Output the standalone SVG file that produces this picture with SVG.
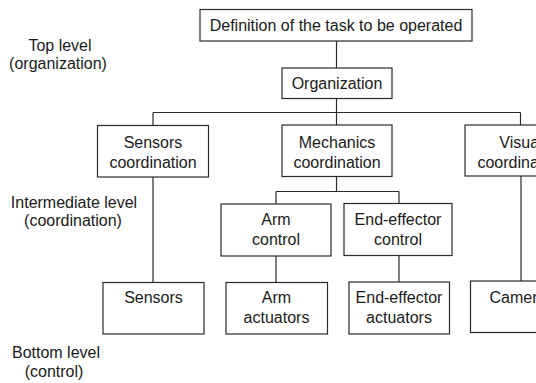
<svg xmlns="http://www.w3.org/2000/svg" width="536" height="383" viewBox="0 0 536 383">
<style>
.box{fill:#fff;stroke:#2a2a2a;stroke-width:1.2}
.ln{fill:none;stroke:#2a2a2a;stroke-width:1.2}
text{font-family:"Liberation Sans",Arial,sans-serif;font-size:16px;fill:#1a1a1a;text-anchor:middle}
</style>
<rect width="536" height="383" fill="#fff"/>
<g id="connectors">
<path class="ln" d="M336.5 41V68M336.5 98.5V125M153 112.5H520.5M153 112.5V125.5M520.5 112.5V125M153 177V282.5M336.5 176.5V191.5M276 191.5H399M276 191.5V204M399 191.5V203.5M276 256V282.5M399 255.5V282M521 176V281"/>
</g>
<g id="labels">
<text x="60" y="50.5">Top level</text>
<text x="58" y="68.5">(organization)</text>
<text x="74" y="208">Intermediate level</text>
<text x="73" y="226">(coordination)</text>
<text x="56" y="358">Bottom level</text>
<text x="54" y="377">(control)</text>
</g>
<g id="task"><rect class="box" x="200" y="9.5" width="272" height="31.5"/><text x="336" y="31">Definition of the task to be operated</text></g>
<g id="organization"><rect class="box" x="282" y="68" width="110" height="30.5"/><text x="337" y="89">Organization</text></g>
<g id="sensors-coordination"><rect class="box" x="97.5" y="125.5" width="111" height="51.5"/><text x="153" y="148">Sensors</text><text x="153" y="168">coordination</text></g>
<g id="mechanics-coordination"><rect class="box" x="282" y="125" width="110" height="51.5"/><text x="337" y="148">Mechanics</text><text x="337" y="168">coordination</text></g>
<g id="visual-coordination"><rect class="box" x="465" y="125" width="115" height="51"/><text x="521" y="148">Visual</text><text x="521" y="168">coordination</text></g>
<g id="arm-control"><rect class="box" x="221" y="204" width="110" height="52"/><text x="276" y="225">Arm</text><text x="276" y="245">control</text></g>
<g id="end-effector-control"><rect class="box" x="344" y="203.5" width="108" height="52"/><text x="398" y="225">End-effector</text><text x="398" y="245">control</text></g>
<g id="sensors"><rect class="box" x="103" y="282.5" width="101" height="51.5"/><text x="153.5" y="303">Sensors</text></g>
<g id="arm-actuators"><rect class="box" x="226" y="282.5" width="101.5" height="51.5"/><text x="276.5" y="303">Arm</text><text x="276.5" y="323">actuators</text></g>
<g id="end-effector-actuators"><rect class="box" x="349" y="282" width="100.5" height="52"/><text x="399" y="303">End-effector</text><text x="399" y="323">actuators</text></g>
<g id="camera"><rect class="box" x="470.5" y="281" width="110" height="51.5"/><text x="518" y="303">Camera</text></g>
</svg>
